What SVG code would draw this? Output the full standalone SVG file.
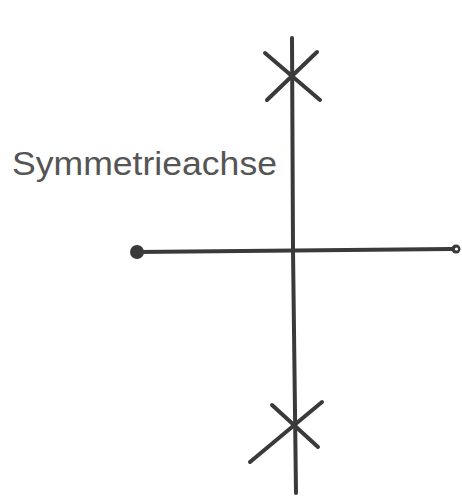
<svg xmlns="http://www.w3.org/2000/svg" width="462" height="500" viewBox="0 0 462 500">
<style>
.ln{stroke:#3a3a3a;stroke-width:4;stroke-linecap:round;fill:none}
.lbl{font-family:"Liberation Sans",Arial,sans-serif;font-size:33px;fill:#555}
</style>
<rect width="462" height="500" fill="#fff"/>
<g id="connectors">
<path class="ln" d="M292 38 L293 250 L296 493"/>
<path class="ln" d="M137 252 L452 249"/>
</g>
<g id="cross-top">
<path class="ln" d="M265 53 L320 100"/>
<path class="ln" d="M317 52 L267 100"/>
</g>
<g id="cross-bottom">
<path class="ln" d="M272 405 L318 447"/>
<path class="ln" d="M322 402 L250 462"/>
</g>
<g id="point-left">
<circle cx="137" cy="252" r="7" fill="#3a3a3a"/>
</g>
<g id="point-right">
<circle cx="456" cy="249" r="4.5" fill="#3a3a3a"/>
<circle cx="456.5" cy="249" r="1.6" fill="#fff"/>
</g>
<g id="label">
<text class="lbl" x="12" y="175" textLength="265" lengthAdjust="spacingAndGlyphs">Symmetrieachse</text>
</g>
</svg>
